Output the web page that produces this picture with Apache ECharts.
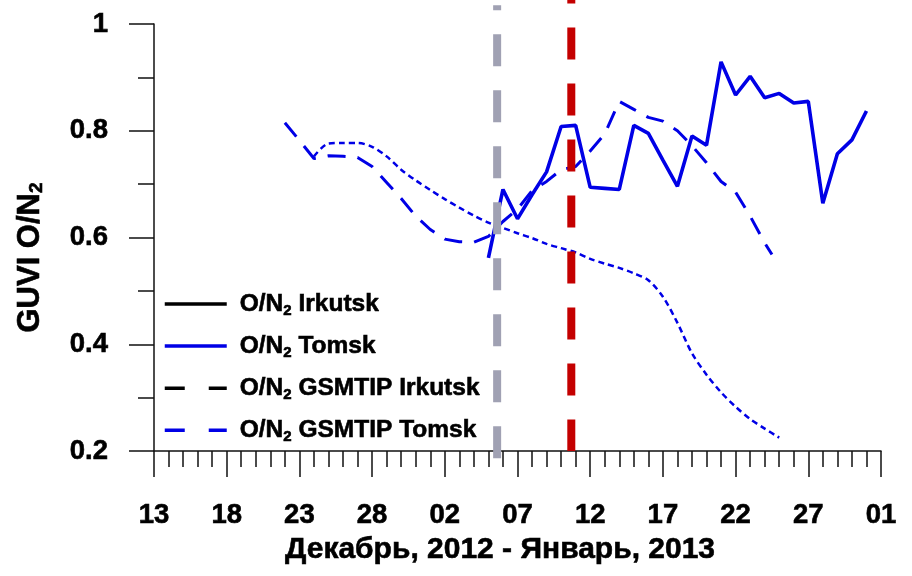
<!DOCTYPE html>
<html><head><meta charset="utf-8">
<script src="https://cdn.jsdelivr.net/npm/echarts@6/dist/echarts.min.js"></script>
<style>html,body{margin:0;padding:0;background:#fff}#c{width:912px;height:576px}</style>
</head><body><div id="c"></div>
<script>
// x values: days since 13 Dec 2012
const xTickLabels = ['13','18','23','28','02','07','12','17','22','27','01'];
const yTickValues = [0.2, 0.4, 0.6, 0.8, 1];

const tomskDays   = [23,24,25,26,27,28,29,30,31,32,33,34,35,36,37,38,39,40,41,42,43,44,45,46,47,48,49];
const tomskValues = [0.562,0.69,0.635,0.68,0.723,0.808,0.81,0.694,0.692,0.69,0.81,0.795,0.745,0.696,0.79,0.773,0.929,0.867,0.902,0.862,0.87,0.852,0.855,0.664,0.757,0.783,0.837];

const gsmtipTomskDays   = [9,10,11,12,13,14,15,16,17,18,19,20,21,22,23,24,25,26,27,28,29,30,31,32,33,34,35,36,37,38,39,40,41,42,42.5];
const gsmtipTomskValues = [0.815,0.782,0.748,0.753,0.752,0.75,0.733,0.703,0.673,0.64,0.615,0.597,0.592,0.591,0.602,0.63,0.653,0.688,0.705,0.727,0.733,0.762,0.794,0.855,0.84,0.825,0.818,0.8,0.772,0.74,0.705,0.685,0.64,0.59,0.568];

const modelDays   = [11,12,13,14,15,16,17,18,19,20,21,22,23,24,25,26,27,28,29,30,31,32,33,34,35,36,37,38,39,40,41,42,43];
const modelValues = [0.752,0.776,0.777,0.777,0.77,0.752,0.727,0.707,0.689,0.672,0.656,0.641,0.628,0.618,0.608,0.599,0.588,0.58,0.572,0.56,0.551,0.543,0.533,0.52,0.489,0.44,0.383,0.343,0.31,0.283,0.26,0.242,0.225];

const eventDays = [23.6, 28.7];
const eventTop = [1.035, 1.046];
const eventBottom = [0.182, 0.2];

const legendNames = ['O/N2 Irkutsk', 'O/N2 Tomsk', 'O/N2 GSMTIP Irkutsk', 'O/N2 GSMTIP Tomsk'];

const pair = (xs, ys) => xs.map((x, i) => [x, ys[i]]);
const FONT = '"Liberation Sans", Arial, sans-serif';
const BLUE = '#0000e6';
const AX = '#111';
const hidden = { opacity: 0, color: 'rgba(0,0,0,0)', borderWidth: 0 };
const heavy = { textBorderColor: '#000', textBorderWidth: 0.6 };

const chart = echarts.init(document.getElementById('c'));
chart.setOption({
  animation: false,
  backgroundColor: '#fff',
  textStyle: { fontFamily: FONT },
  grid: { left: 154, right: 31, top: 24, bottom: 125 },
  legend: {
    orient: 'vertical', left: 163, top: 290, padding: 0, itemGap: 13.8,
    itemWidth: 62, itemHeight: 14,
    itemStyle: hidden,
    data: [
      { name: legendNames[0], itemStyle: hidden, lineStyle: { color: '#000', width: 3.5, type: 'solid' } },
      { name: legendNames[1], itemStyle: hidden, lineStyle: { color: BLUE, width: 3.5, type: 'solid' } },
      { name: legendNames[2], itemStyle: hidden, lineStyle: { color: '#000', width: 3.5, type: [20, 24] } },
      { name: legendNames[3], itemStyle: hidden, lineStyle: { color: BLUE, width: 3.5, type: [20, 24] } }
    ],
    formatter: n => n.replace('N2', 'N{s|2}'),
    textStyle: Object.assign({
      fontFamily: FONT, fontSize: 24.5, fontWeight: 'bold', color: '#000', lineHeight: 28,
      padding: [0, 0, 0, 8],
      rich: { s: Object.assign({ fontFamily: FONT, fontSize: 15, fontWeight: 'bold', color: '#000', verticalAlign: 'bottom', lineHeight: 6 }, heavy) }
    }, heavy)
  },
  xAxis: {
    type: 'value', min: 0, max: 50, interval: 5,
    axisLine: { show: true, onZero: false, lineStyle: { color: AX, width: 1.5 } },
    axisTick: { show: true, length: 26, lineStyle: { color: AX, width: 1.5 } },
    minorTick: { show: true, splitNumber: 5, length: 16, lineStyle: { color: AX, width: 1.5 } },
    splitLine: { show: false }, minorSplitLine: { show: false },
    axisLabel: Object.assign({ margin: 50, fontFamily: FONT, fontSize: 27.5, fontWeight: 'bold', color: '#000',
      formatter: v => xTickLabels[Math.round(v / 5)] }, heavy),
    name: 'Декабрь, 2012 - Январь, 2013', nameLocation: 'middle', nameGap: 82,
    nameTextStyle: Object.assign({ fontFamily: FONT, fontSize: 30, fontWeight: 'bold', color: '#000', padding: [0, 35, 0, 0] }, heavy)
  },
  yAxis: {
    type: 'value', min: 0.2, max: 1, interval: 0.2,
    axisLine: { show: true, lineStyle: { color: AX, width: 1.5 } },
    axisTick: { show: true, length: 25, lineStyle: { color: AX, width: 1.5 } },
    minorTick: { show: true, splitNumber: 2, length: 16, lineStyle: { color: AX, width: 1.5 } },
    splitLine: { show: false }, minorSplitLine: { show: false },
    axisLabel: Object.assign({ margin: 46, fontFamily: FONT, fontSize: 27.5, fontWeight: 'bold', color: '#000',
      formatter: v => { const t = yTickValues.find(u => Math.abs(u - v) < 1e-6); return t === undefined ? '' : String(t); } }, heavy),
    name: 'GUVI O/N{s|2}', nameLocation: 'middle', nameGap: 108,
    nameTextStyle: Object.assign({ fontFamily: FONT, fontSize: 31, fontWeight: 'bold', color: '#000', padding: [0, 40, 0, 0],
      rich: { s: Object.assign({ fontFamily: FONT, fontSize: 19, fontWeight: 'bold', color: '#000', verticalAlign: 'bottom', lineHeight: 6 }, heavy) } }, heavy)
  },
  series: [
    { name: legendNames[0], type: 'line', data: [], symbol: 'none', lineStyle: { color: '#000', width: 3.5 }, itemStyle: { color: '#000' } },
    { name: legendNames[1], type: 'line', data: pair(tomskDays, tomskValues), symbol: 'none',
      lineStyle: { color: BLUE, width: 3.6 }, itemStyle: { color: BLUE } },
    { name: legendNames[2], type: 'line', data: [], symbol: 'none', lineStyle: { color: '#000', width: 3.5, type: [20, 24] }, itemStyle: { color: '#000' } },
    { name: legendNames[3], type: 'line', data: pair(gsmtipTomskDays, gsmtipTomskValues), symbol: 'none',
      lineStyle: { color: BLUE, width: 3, type: [18, 12] }, itemStyle: { color: BLUE } },
    { name: 'model', type: 'line', data: pair(modelDays, modelValues), symbol: 'none', smooth: 0.3,
      lineStyle: { color: BLUE, width: 2.5, type: [6, 4] }, itemStyle: { color: BLUE } },
    { name: 'event1', type: 'line', silent: true, clip: false, symbol: 'none', z: 5,
      data: [[eventDays[0], eventTop[0]], [eventDays[0], eventBottom[0]]],
      lineStyle: { color: '#a0a1b3', width: 8, type: [32, 24], dashOffset: 27, cap: 'butt' } },
    { name: 'event2', type: 'line', silent: true, clip: false, symbol: 'none', z: 5,
      data: [[eventDays[1], eventTop[1]], [eventDays[1], eventBottom[1]]],
      lineStyle: { color: '#c40000', width: 8, type: [32, 24], dashOffset: 28, cap: 'butt' } }
  ]
});
</script></body></html>
